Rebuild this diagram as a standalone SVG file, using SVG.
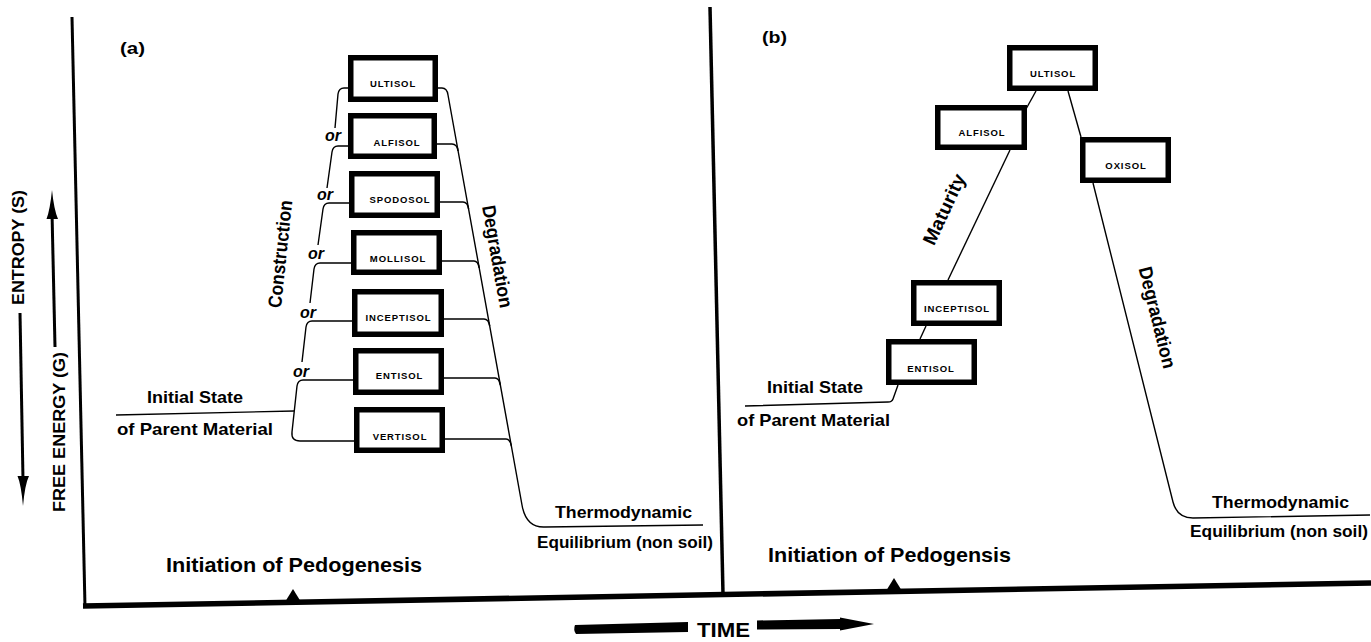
<svg xmlns="http://www.w3.org/2000/svg" width="1371" height="642" viewBox="0 0 1371 642">
<style>
.box{fill:#fff;stroke:#000;stroke-width:5.5}
.lbl{font-family:"Liberation Sans",Arial,sans-serif;font-size:9.5px;font-weight:bold;letter-spacing:0.9px;text-anchor:middle;fill:#000}
.ln{fill:none;stroke:#000;stroke-width:1.4}
.ax{fill:none;stroke:#000}
.t{font-family:"Liberation Sans",Arial,sans-serif;font-weight:bold;font-size:17px;fill:#000}
.big{font-size:21px}
.rot{font-size:19px;text-anchor:middle}
.or{font-family:"Liberation Sans",Arial,sans-serif;font-style:italic;font-weight:bold;font-size:16px;fill:#000}
</style>
<rect width="1371" height="642" fill="#fff"/>

<g id="axes">
  <path class="ax" d="M72,17 L85,607" stroke-width="3"/>
  <path class="ax" d="M710,7 L723,594" stroke-width="3.5"/>
  <path class="ax" d="M83,606 L1371,583" stroke-width="5.5"/>
  <polygon points="285,602 293,589 301,602" fill="#000"/>
  <polygon points="886,591 894,578 902,591" fill="#000"/>
  <path class="ax" d="M20,313 L23,480" stroke-width="3"/>
  <path d="M17.5,476 Q21,484 23,506 Q25,484 29,476 Z" fill="#000"/>
  <path class="ax" d="M55,347 L52,212" stroke-width="3"/>
  <path d="M46.5,219 Q50,210 52,190 Q54,210 58,219 Z" fill="#000"/>
  <text class="t" transform="translate(24,247.5) rotate(-90)" text-anchor="middle" textLength="115" lengthAdjust="spacingAndGlyphs">ENTROPY (S)</text>
  <text class="t" transform="translate(65,432) rotate(-90)" text-anchor="middle" textLength="160" lengthAdjust="spacingAndGlyphs">FREE ENERGY (G)</text>
  <path d="M575,625 L688,622 L688,632 L576,634 Q573,630 575,625 Z" fill="#000"/>
  <text class="t big" x="697" y="637" textLength="53" lengthAdjust="spacingAndGlyphs">TIME</text>
  <path d="M757,620.5 L840,619 L840,617.5 L874,624 L840,630.5 L840,629 L757,629.5 Z" fill="#000"/>
</g>

<g id="labels-a">
  <text class="t" x="120" y="54" font-size="16" textLength="25" lengthAdjust="spacingAndGlyphs">(a)</text>
  <text class="t" x="147" y="403" textLength="96" lengthAdjust="spacingAndGlyphs">Initial State</text>
  <text class="t" x="117" y="435" textLength="156" lengthAdjust="spacingAndGlyphs">of Parent Material</text>
  <text class="t" x="555" y="518" textLength="137" lengthAdjust="spacingAndGlyphs">Thermodynamic</text>
  <text class="t" x="537" y="548" textLength="176" lengthAdjust="spacingAndGlyphs">Equilibrium (non soil)</text>
  <text class="t big" x="166" y="572" textLength="256" lengthAdjust="spacingAndGlyphs">Initiation of Pedogenesis</text>
  <text class="t rot" transform="translate(286.6,254.7) rotate(-84)" textLength="108" lengthAdjust="spacingAndGlyphs">Construction</text>
  <text class="t rot" transform="translate(491,257.6) rotate(80)" textLength="104" lengthAdjust="spacingAndGlyphs">Degradation</text>
  <text class="or" x="325" y="141">or</text>
  <text class="or" x="317" y="200">or</text>
  <text class="or" x="308" y="259">or</text>
  <text class="or" x="300" y="318">or</text>
  <text class="or" x="293" y="377">or</text>
</g>

<g id="labels-b">
  <text class="t" x="762" y="43" font-size="16" textLength="25" lengthAdjust="spacingAndGlyphs">(b)</text>
  <text class="t" x="767" y="393" textLength="96" lengthAdjust="spacingAndGlyphs">Initial State</text>
  <text class="t" x="737" y="426" textLength="153" lengthAdjust="spacingAndGlyphs">of Parent Material</text>
  <text class="t" x="1212" y="508" textLength="137" lengthAdjust="spacingAndGlyphs">Thermodynamic</text>
  <text class="t" x="1190" y="537" textLength="178" lengthAdjust="spacingAndGlyphs">Equilibrium (non soil)</text>
  <text class="t big" x="768" y="562" textLength="243" lengthAdjust="spacingAndGlyphs">Initiation of Pedogensis</text>
  <text class="t rot" transform="translate(950,212) rotate(-65)" textLength="76" lengthAdjust="spacingAndGlyphs">Maturity</text>
  <text class="t rot" transform="translate(1151,319) rotate(76)" textLength="104" lengthAdjust="spacingAndGlyphs">Degradation</text>
</g>

<g id="connectors">
  <path class="ln" d="M116,415 L294,411"/>
  <path class="ln" d="M348,88 L344,88 Q339,88 338,94 L335,128"/>
  <path class="ln" d="M348,146 L338,146 Q333,146 332,152 L327,188"/>
  <path class="ln" d="M349,203 L329,203 Q324,203 323,209 L318,245"/>
  <path class="ln" d="M351,263 L320,263 Q315,263 314,269 L310,303"/>
  <path class="ln" d="M352,321 L312,321 Q307,321 306,327 L302,362"/>
  <path class="ln" d="M353,380 L303,380 Q298,380 297,386 L292,432 Q291,441 300,441 L354,441"/>
  <path class="ln" d="M438,88 L442,88 Q447,88 448,95 L522,505 Q526,528 545,527 L703,525"/>
  <path class="ln" d="M437,144 L452,144 Q457,144 458.1,151"/>
  <path class="ln" d="M440,202 L463,202 Q467.5,202 468.6,209"/>
  <path class="ln" d="M442,261 L474,261 Q478,261 479.2,268"/>
  <path class="ln" d="M444,319 L484,319 Q488.5,319 489.7,326"/>
  <path class="ln" d="M444,378 L495,378 Q499,378 500.3,385"/>
  <path class="ln" d="M445,439 L506,439 Q510,439 511.4,446"/>
  <path class="ln" d="M1036,91 L1026,109"/>
  <path class="ln" d="M1010,150 L948,280"/>
  <path class="ln" d="M926,326 L920,339"/>
  <path class="ln" d="M898,385 L893,399 Q892,402 888,402 L745,406"/>
  <path class="ln" d="M1068,91 L1081,137"/>
  <path class="ln" d="M1093,183 L1173,502 Q1177,518 1193,518 L1370,515"/>
</g>

<g id="node-a-ultisol"><rect class="box" x="350.75" y="57.75" width="84.5" height="41.5"/><text class="lbl" x="393" y="87">ULTISOL</text></g>
<g id="node-a-alfisol"><rect class="box" x="350.75" y="115.75" width="83.5" height="40.5"/><text class="lbl" x="397" y="146">ALFISOL</text></g>
<g id="node-a-spodosol"><rect class="box" x="351.75" y="173.75" width="85.5" height="41.5"/><text class="lbl" x="400" y="203">SPODOSOL</text></g>
<g id="node-a-mollisol"><rect class="box" x="353.75" y="232.75" width="85.5" height="39.5"/><text class="lbl" x="398" y="262">MOLLISOL</text></g>
<g id="node-a-inceptisol"><rect class="box" x="354.75" y="291.75" width="86.5" height="42.5"/><text class="lbl" x="398.5" y="321">INCEPTISOL</text></g>
<g id="node-a-entisol"><rect class="box" x="355.75" y="350.75" width="85.5" height="41.5"/><text class="lbl" x="399.5" y="379">ENTISOL</text></g>
<g id="node-a-vertisol"><rect class="box" x="356.75" y="409.75" width="85.5" height="40.5"/><text class="lbl" x="400" y="440">VERTISOL</text></g>

<g id="node-b-ultisol"><rect class="box" x="1009.75" y="47.75" width="85.5" height="40.5"/><text class="lbl" x="1053" y="77">ULTISOL</text></g>
<g id="node-b-alfisol"><rect class="box" x="937.75" y="107.75" width="86.5" height="39.5"/><text class="lbl" x="982" y="136">ALFISOL</text></g>
<g id="node-b-oxisol"><rect class="box" x="1082.75" y="139.75" width="85.5" height="40.5"/><text class="lbl" x="1126" y="169">OXISOL</text></g>
<g id="node-b-inceptisol"><rect class="box" x="913.75" y="282.75" width="85.5" height="40.5"/><text class="lbl" x="957" y="312">INCEPTISOL</text></g>
<g id="node-b-entisol"><rect class="box" x="888.75" y="341.75" width="85.5" height="40.5"/><text class="lbl" x="931" y="372">ENTISOL</text></g>
</svg>
